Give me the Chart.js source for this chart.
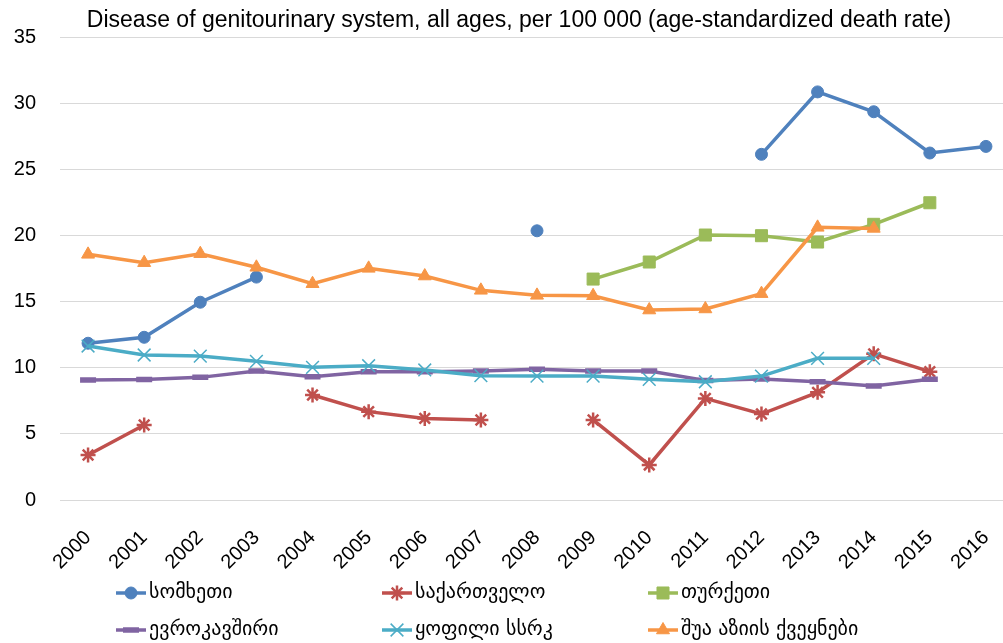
<!DOCTYPE html>
<html>
<head>
<meta charset="utf-8">
<script src="https://cdn.jsdelivr.net/npm/chart.js@4"></script>
<style>
  html, body { margin: 0; padding: 0; background: #fff; overflow: hidden; }
  canvas { display: block; }
</style>
</head>
<body>
<canvas id="deathChart" width="1019" height="643"></canvas>
<script>
// years on the x axis
const years = ['2000', '2001', '2002', '2003', '2004', '2005', '2006', '2007', '2008',
               '2009', '2010', '2011', '2012', '2013', '2014', '2015', '2016'];

const chartTitle = 'Disease of genitourinary system, all ages, per 100 000 (age-standardized death rate)';

// series values (null = no data)
const armenia = [11.85, 12.3, 14.95, 16.85, null, null, null, null, 20.35,
                 null, null, null, 26.13, 30.85, 29.35, 26.23, 26.73];
const georgia = [3.4, 5.67, null, null, 7.94, 6.68, 6.17, 6.05, null,
                 6.05, 2.65, 7.68, 6.5, 8.14, 11.05, 9.7, null];
const turkey = [null, null, null, null, null, null, null, null, null,
                16.7, 17.99, 20.03, 19.98, 19.5, 20.84, 22.47, null];
const euUnion = [9.07, 9.1, 9.27, 9.75, 9.32, 9.7, 9.7, 9.75, 9.88,
                 9.75, 9.75, 9.04, 9.14, 8.94, 8.62, 9.12, null];
const formerUssr = [11.64, 10.96, 10.88, 10.48, 10.03, 10.15, 9.83, 9.4, 9.37,
                    9.37, 9.12, 8.94, 9.37, 10.71, 10.71, null, null];
const centralAsia = [18.57, 17.94, 18.62, 17.59, 16.35, 17.51, 16.93, 15.85, 15.47,
                     15.44, 14.36, 14.44, 15.6, 20.61, 20.53, null, null];

const seriesNames = ['სომხეთი', 'საქართველო', 'თურქეთი', 'ევროკავშირი', 'ყოფილი სსრკ', 'შუა აზიის ქვეყნები'];

// y axis ticks
const yMin = 0;
const yMax = 35;
const yStep = 5;

function makeSet(idx, data, color, style, radius, pointBorder) {
    return {
        label: seriesNames[idx],
        data: data,
        borderColor: color,
        backgroundColor: color,
        borderWidth: 3.5,
        tension: 0,
        spanGaps: false,
        pointStyle: style,
        pointRadius: radius,
        pointHoverRadius: radius,
        pointBorderWidth: pointBorder,
        pointBorderColor: color,
        pointBackgroundColor: color,
        order: 10 - idx   // later series drawn on top, like the original
    };
}

const datasets = [
    makeSet(0, armenia, '#4F81BD', 'circle', 6, 1),
    makeSet(1, georgia, '#C0504D', 'star', 7.5, 2.5),
    makeSet(2, turkey, '#9BBB59', 'rect', 8.5, 1),
    makeSet(3, euUnion, '#8064A2', 'line', 8, 5.5),
    makeSet(4, formerUssr, '#4BACC6', 'crossRot', 9, 1.5),
    makeSet(5, centralAsia, '#F79646', 'triangle', 7.5, 1)
];

// the plot in the original runs past the right window edge;
// chart.js keeps some room for the last rotated label, so widen it again
const plotEdge = {
    id: 'plotEdge',
    afterLayout(chart) {
        const right = 1014;
        const xs = chart.scales.x;
        xs.right = right;
        xs.width = right - xs.left;
        xs.configure();
        chart.chartArea.right = right;
        chart.chartArea.width = right - chart.chartArea.left;
    }
};

// title + legend drawn on the canvas, legend laid out in 3 columns
const titleAndLegend = {
    id: 'titleAndLegend',
    afterDraw(chart) {
        const ctx = chart.ctx;
        ctx.save();
        ctx.fillStyle = '#000';
        ctx.font = '23px "Liberation Sans"';
        ctx.textAlign = 'center';
        ctx.textBaseline = 'alphabetic';
        ctx.fillText(chartTitle, 519, 27);

        ctx.font = '20px "DejaVu Sans"';
        ctx.textAlign = 'left';
        ctx.textBaseline = 'middle';
        chart.data.datasets.forEach((ds, i) => {
            const col = i % 3;
            const row = Math.floor(i / 3);
            const x0 = 116 + col * 266;
            const y = 593 + row * 37;
            ctx.strokeStyle = ds.borderColor;
            ctx.lineWidth = ds.borderWidth;
            ctx.beginPath();
            ctx.moveTo(x0, y);
            ctx.lineTo(x0 + 30, y);
            ctx.stroke();
            ctx.fillStyle = ds.pointBackgroundColor;
            ctx.strokeStyle = ds.pointBorderColor;
            ctx.lineWidth = ds.pointBorderWidth;
            Chart.helpers.drawPoint(ctx, {
                pointStyle: ds.pointStyle,
                radius: ds.pointRadius,
                borderWidth: ds.pointBorderWidth,
                rotation: 0
            }, x0 + 15, y);
            ctx.fillStyle = '#000';
            ctx.fillText(ds.label, x0 + 33, y);
        });
        ctx.restore();
    }
};

const ctx = document.getElementById('deathChart').getContext('2d');
window.myChart = new Chart(ctx, {
    type: 'line',
    data: {
        labels: years,
        datasets: datasets
    },
    plugins: [plotEdge, titleAndLegend],
    options: {
        responsive: false,
        animation: false,
        devicePixelRatio: 1,
        layout: {
            padding: { top: 37, left: 0, right: 0, bottom: 71 }
        },
        plugins: {
            legend: { display: false },
            title: { display: false },
            tooltip: { enabled: false }
        },
        scales: {
            x: {
                type: 'category',
                offset: true,
                grid: { display: false, drawTicks: false },
                border: { display: false },
                ticks: {
                    color: '#000',
                    font: { family: 'Liberation Sans', size: 20 },
                    minRotation: 45,
                    maxRotation: 45,
                    padding: 26,
                    autoSkip: false
                },
                afterFit(scale) {
                    scale.height = 72;
                    scale.paddingLeft = 0;
                    scale.paddingRight = 0;
                }
            },
            y: {
                min: yMin,
                max: yMax,
                grid: { color: '#D9D9D9', lineWidth: 1, drawTicks: false },
                border: { display: false },
                ticks: {
                    stepSize: yStep,
                    color: '#000',
                    font: { family: 'Liberation Sans', size: 20 },
                    padding: 24
                },
                afterFit(scale) { scale.width = 60; }
            }
        }
    }
});
</script>
</body>
</html>
